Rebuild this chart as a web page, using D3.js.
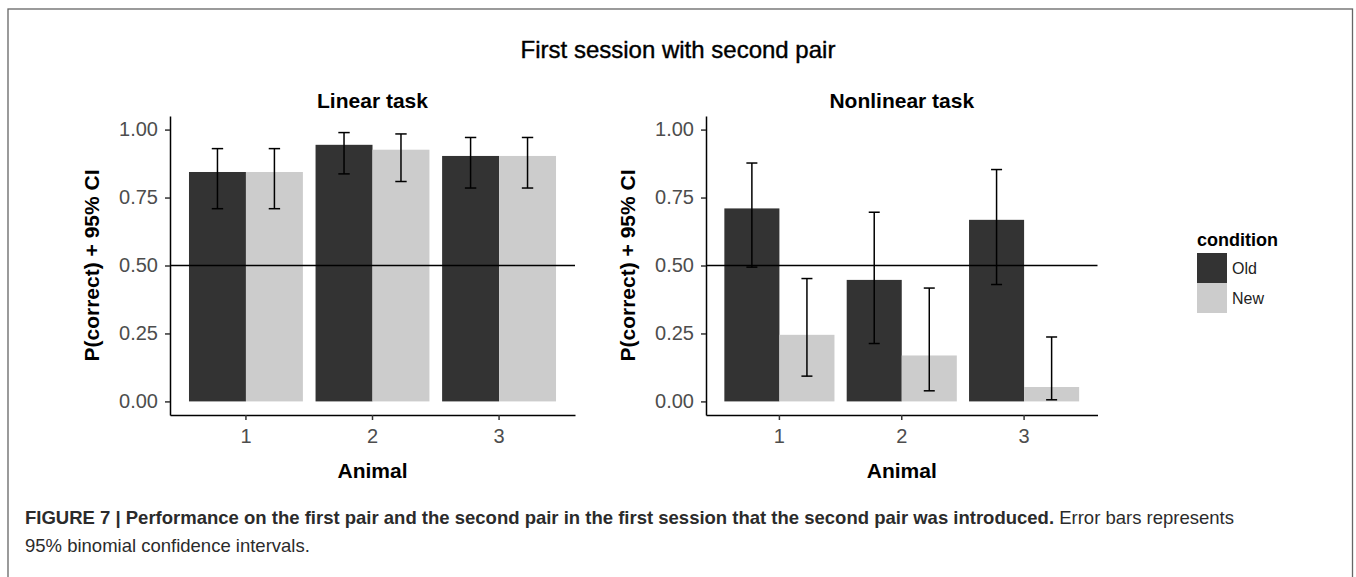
<!DOCTYPE html>
<html>
<head>
<meta charset="utf-8">
<script src="https://cdn.jsdelivr.net/npm/d3@7"></script>
<title>First session with second pair</title>
<style>
  body { margin: 0; background: #fff; }
  svg text { font-family: "Liberation Sans", Arial, sans-serif; }
</style>
</head>
<body>
<script>
// values
var animals = ["1", "2", "3"];
var conditions = ["Old", "New"];
var yTicks = [0, 0.25, 0.5, 0.75, 1];
var chance = 0.5;

var linearOld = [0.844, 0.944, 0.903];
var linearOldLow = [0.709, 0.837, 0.785];
var linearOldHigh = [0.930, 0.989, 0.971];
var linearNew = [0.844, 0.926, 0.903];
var linearNewLow = [0.709, 0.809, 0.785];
var linearNewHigh = [0.930, 0.984, 0.971];

var nonlinOld = [0.710, 0.447, 0.668];
var nonlinOldLow = [0.494, 0.213, 0.430];
var nonlinOldHigh = [0.877, 0.696, 0.853];
var nonlinNew = [0.245, 0.169, 0.053];
var nonlinNewLow = [0.093, 0.039, 0.006];
var nonlinNewHigh = [0.452, 0.417, 0.237];

var fills = { Old: "#333333", New: "#cccccc" };

var W = 1356, H = 577;
var svg = d3.select("body").append("svg")
    .attr("width", W)
    .attr("height", H);

// frame
svg.append("rect")
    .attr("x", 8).attr("y", 9)
    .attr("width", 1344.5).attr("height", 620)
    .attr("fill", "none")
    .attr("stroke", "#666")
    .attr("stroke-width", 1.3);

svg.append("text")
    .attr("x", 678).attr("y", 58)
    .attr("text-anchor", "middle")
    .attr("font-size", 24)
    .attr("fill", "#000")
    .attr("stroke", "#000").attr("stroke-width", 0.4)
    .text("First session with second pair");

var y = d3.scaleLinear().domain([-0.05, 1.05]).range([415, 116]);

function rows(mean, low, high, cond) {
  return animals.map(function(a, i) {
    return { animal: a, cond: cond, v: mean[i], lo: low[i], hi: high[i] };
  });
}

function panel(left, right, title, data) {
  var g = svg.append("g");
  var x = d3.scaleBand().domain(animals).range([left, right])
      .paddingInner(0.1).paddingOuter(0.15);
  var xc = d3.scaleBand().domain(conditions).range([0, x.bandwidth()]);
  var mid = (left + right) / 2;

  g.selectAll("rect.bar")
    .data(data)
    .enter()
    .append("rect")
    .attr("class", "bar")
    .attr("x", function(d) { return x(d.animal) + xc(d.cond); })
    .attr("width", xc.bandwidth())
    .attr("y", function(d) { return y(d.v); })
    .attr("height", function(d) { return y(0) - y(d.v); })
    .attr("fill", function(d) { return fills[d.cond]; });

  g.append("line")
    .attr("x1", left).attr("x2", right)
    .attr("y1", y(chance)).attr("y2", y(chance))
    .attr("stroke", "#000").attr("stroke-width", 1.5);

  var cap = x.step() * 0.045;
  var eb = g.selectAll("g.err")
    .data(data)
    .enter()
    .append("g")
    .attr("class", "err")
    .attr("transform", function(d) {
      return "translate(" + (x(d.animal) + xc(d.cond) + xc.bandwidth() / 2) + ",0)";
    })
    .attr("stroke", "#000")
    .attr("stroke-width", 1.5);
  eb.append("line")
    .attr("y1", function(d) { return y(d.lo); })
    .attr("y2", function(d) { return y(d.hi); });
  eb.append("line")
    .attr("x1", -cap).attr("x2", cap)
    .attr("y1", function(d) { return y(d.lo); })
    .attr("y2", function(d) { return y(d.lo); });
  eb.append("line")
    .attr("x1", -cap).attr("x2", cap)
    .attr("y1", function(d) { return y(d.hi); })
    .attr("y2", function(d) { return y(d.hi); });

  var ya = g.append("g")
    .attr("transform", "translate(" + left + ",0)")
    .call(d3.axisLeft(y).tickValues(yTicks).tickFormat(d3.format(".2f"))
      .tickSize(5).tickSizeOuter(0).tickPadding(7));
  var xa = g.append("g")
    .attr("transform", "translate(0," + y.range()[0] + ")")
    .call(d3.axisBottom(x).tickSize(5).tickSizeOuter(0).tickPadding(9));

  [ya, xa].forEach(function(a) {
    a.select(".domain").attr("stroke", "#000").attr("stroke-width", 1.5);
    a.selectAll(".tick line").attr("stroke", "#333").attr("stroke-width", 1.5);
    a.selectAll(".tick text")
      .attr("font-size", 20)
      .attr("fill", "#4d4d4d")
      .style("font-family", "'Liberation Sans', Arial, sans-serif");
  });

  g.append("text")
    .attr("x", mid).attr("y", 108)
    .attr("text-anchor", "middle")
    .attr("font-size", 21).attr("font-weight", "bold")
    .text(title);

  g.append("text")
    .attr("x", mid).attr("y", 478)
    .attr("text-anchor", "middle")
    .attr("font-size", 21).attr("font-weight", "bold")
    .text("Animal");

  g.append("text")
    .attr("transform", "translate(" + (left - 71) + "," + ((y.range()[0] + y.range()[1]) / 2) + ") rotate(-90)")
    .attr("text-anchor", "middle")
    .attr("font-size", 21).attr("font-weight", "bold")
    .text("P(correct) + 95% CI");
}

panel(170, 575, "Linear task",
  rows(linearOld, linearOldLow, linearOldHigh, "Old")
    .concat(rows(linearNew, linearNewLow, linearNewHigh, "New")));
panel(706, 1097.5, "Nonlinear task",
  rows(nonlinOld, nonlinOldLow, nonlinOldHigh, "Old")
    .concat(rows(nonlinNew, nonlinNewLow, nonlinNewHigh, "New")));

// legend
var lg = svg.append("g").attr("transform", "translate(1197,0)");
lg.append("text")
  .attr("x", 0).attr("y", 246)
  .attr("font-size", 18).attr("font-weight", "bold")
  .text("condition");
var key = d3.scaleBand().domain(conditions).range([253, 313]);
lg.selectAll("rect")
  .data(conditions)
  .enter()
  .append("rect")
  .attr("x", 0).attr("y", function(d) { return key(d); })
  .attr("width", 30).attr("height", key.bandwidth())
  .attr("fill", function(d) { return fills[d]; });
lg.selectAll("text.lab")
  .data(conditions)
  .enter()
  .append("text")
  .attr("class", "lab")
  .attr("x", 35).attr("y", function(d) { return key(d) + key.bandwidth() / 2 + 6; })
  .attr("font-size", 16)
  .attr("fill", "#222")
  .text(function(d) { return d; });

// caption
var cap1 = svg.append("text")
  .attr("x", 25).attr("y", 524)
  .attr("font-size", 18.5)
  .attr("fill", "#2b2b2b");
cap1.append("tspan").attr("font-weight", "bold")
  .text("FIGURE 7 | Performance on the first pair and the second pair in the first session that the second pair was introduced.");
cap1.append("tspan").text(" Error bars represents");
svg.append("text")
  .attr("x", 25).attr("y", 552)
  .attr("font-size", 18.5)
  .attr("fill", "#2b2b2b")
  .text("95% binomial confidence intervals.");
</script>
</body>
</html>
